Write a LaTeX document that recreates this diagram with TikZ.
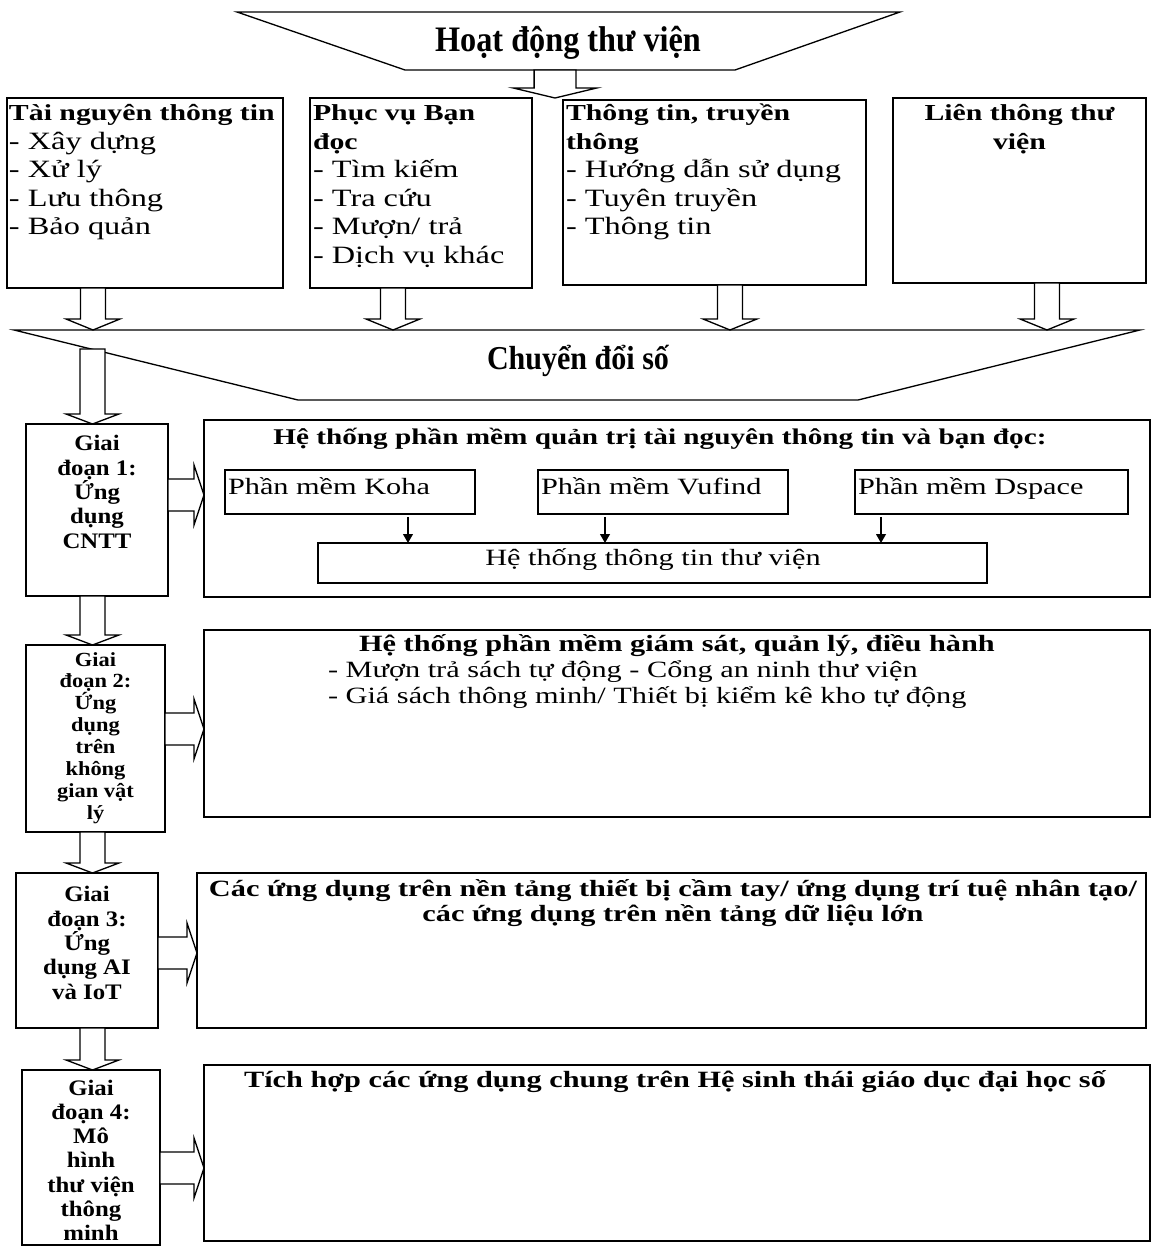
\documentclass[tikz,border=0pt]{standalone}
\usepackage{fontspec}
\setmainfont{Liberation Serif}[FakeStretch=1.3]
\newfontfamily\ttlfont{Liberation Serif}[FakeStretch=0.9]
\newfontfamily\stgfont{Liberation Serif}[FakeStretch=1.12]
\usetikzlibrary{calc,arrows.meta}
\newcommand\fs[2]{\fontsize{#1}{#2}\selectfont}
\newcommand\tstrut{\rule{0pt}{1em}}
\newcommand\hb[1]{{\fs{13.04pt}{16.21pt}\bfseries #1}}
\newcommand\rbox[5]{\node[boxnode, minimum width={(#4-#2)*0.02cm}, minimum height={(#5-#3)*0.02cm}] (#1) at ({(#2+#4)/2},{(#3+#5)/2}) {};}
\begin{document}
\begin{tikzpicture}[x=0.02cm,y=-0.02cm,line width=0.75pt,
  boxnode/.style={draw,rectangle,inner sep=0pt,outer sep=0pt},
  txt/.style={inner sep=0pt,outer sep=0pt},
  blk/.style={draw,fill=white,line width=0.75pt},
  dblk/.style n args={3}{blk,to path={let \p1=(\tikztostart),\p2=(\tikztotarget) in
     (\x1-#1,\y1) -- (\x1+#1,\y1) -- (\x1+#1,\y2+#3) -- (\x1+#2,\y2+#3) -- (\x1,\y2)
     -- (\x1-#2,\y2+#3) -- (\x1-#1,\y2+#3) -- cycle}},
  rblk/.style n args={3}{blk,to path={let \p1=(\tikztostart),\p2=(\tikztotarget) in
     (\x1,\y1-#1) -- (\x2-#3,\y1-#1) -- (\x2-#3,\y1-#2) -- (\x2,\y1) -- (\x2-#3,\y1+#2)
     -- (\x2-#3,\y1+#1) -- (\x1,\y1+#1) -- cycle}},
  sarr/.style={-{Triangle[length=5pt,width=5.5pt]},line width=0.75pt,shorten <=1.7pt},
  reg/.style={txt,font=\fs{14.17pt}{16.21pt}},
  stg/.style={txt,anchor=north,align=center,font=\stgfont\bfseries\fs{12.6pt}{13.89pt}},
  ctitle/.style={txt,anchor=base,font=\bfseries\fs{13.27pt}{15pt}},
  creg/.style={txt,font=\fs{13.27pt}{14.74pt}}
]
\useasboundingbox (0,0) rectangle (1151,1247);

% ---------- top funnel ----------
\draw (237,12) coordinate (f1a) -- (900,12) coordinate (f1b) -- (735,70) coordinate (f1c) -- (405,70) coordinate (f1d) -- cycle;
\node[txt,font=\ttlfont\bfseries\fs{20.4pt}{24pt}] (hd) at (568,42.5) {Hoạt động thư viện};
\coordinate (a0s) at (555,70);
\coordinate (a0e) at (555,98);
\draw[dblk={11.9pt}{23.8pt}{5.7pt}] (a0s) to (a0e);

% ---------- row of activity boxes ----------
\rbox{b1}{7}{98}{283}{288}
\rbox{b2}{310}{98}{532}{288}
\rbox{b3}{563}{100}{866}{285}
\rbox{b4}{893}{98}{1146}{283}

\node[reg,anchor=north west,align=left] (t1) at (9,98)
  {\hb{\tstrut Tài nguyên thông tin}\\- Xây dựng\\- Xử lý\\- Lưu thông\\- Bảo quản};
\node[reg,anchor=north west,align=left] (t2) at (313,98)
  {\hb{\tstrut Phục vụ Bạn}\\\hb{đọc}\\- Tìm kiếm\\- Tra cứu\\- Mượn/ trả\\- Dịch vụ khác};
\node[reg,anchor=north west,align=left] (t3) at (566,98)
  {\hb{\tstrut Thông tin, truyền}\\\hb{thông}\\- Hướng dẫn sử dụng\\- Tuyên truyền\\- Thông tin};
\node[reg,anchor=north,align=center] (t4) at (1019.5,98)
  {\hb{\tstrut Liên thông thư}\\\hb{viện}};

% ---------- second funnel ----------
\draw (14,330) coordinate (f2a) -- (1140,330) coordinate (f2b) -- (858,400) coordinate (f2c) -- (298,400) coordinate (f2d) -- cycle;
\coordinate (f2top) at (577,330);
\node[txt,font=\ttlfont\bfseries\fs{19pt}{22pt}] (cds) at (578,361) {Chuyển đổi số};

\coordinate (cx1) at (93,0);
\coordinate (cx2) at (393,0);
\coordinate (cx3) at (730,0);
\coordinate (cx4) at (1047,0);
\draw[dblk={7.09pt}{15.3pt}{6.24pt}] (b1.south -| cx1) to (f2top -| cx1);
\draw[dblk={7.09pt}{15.3pt}{6.24pt}] (b2.south -| cx2) to (f2top -| cx2);
\draw[dblk={7.09pt}{15.3pt}{6.24pt}] (b3.south -| cx3) to (f2top -| cx3);
\draw[dblk={7.09pt}{15.3pt}{6.24pt}] (b4.south -| cx4) to (f2top -| cx4);

% ---------- stage boxes ----------
\rbox{s1}{26}{424}{168}{596}
\rbox{s2}{26}{645}{165}{832}
\rbox{s3}{16}{873}{158}{1028}
\rbox{s4}{22}{1070}{160}{1245}

\node[stg] (st1) at (97,428.5) {\tstrut Giai\\đoạn 1:\\Ứng\\dụng\\CNTT};
\node[stg,font=\stgfont\bfseries\fs{11.4pt}{12.47pt}] (st2) at (95.5,646) {\tstrut Giai\\đoạn 2:\\Ứng\\dụng\\trên\\không\\gian vật\\lý};
\node[stg] (st3) at (87,879.5) {\tstrut Giai\\đoạn 3:\\Ứng\\dụng AI\\và IoT};
\node[stg,font=\stgfont\bfseries\fs{12.6pt}{13.72pt}] (st4) at (91,1073.5) {\tstrut Giai\\đoạn 4:\\Mô\\hình\\thư viện\\thông\\minh};

\coordinate (colx) at (92.5,0);
\coordinate (fe) at (92.5,349);
\draw[dblk={7.09pt}{15pt}{5.67pt}] (fe) to (s1.north -| colx);
\draw[dblk={7.09pt}{15pt}{5.67pt}] (s1.south -| colx) to (s2.north -| colx);
\draw[dblk={7.09pt}{15pt}{5.67pt}] (s2.south -| colx) to (s3.north -| colx);
\draw[dblk={7.09pt}{15pt}{5.67pt}] (s3.south -| colx) to (s4.north -| colx);

% ---------- content boxes ----------
\rbox{c1}{204}{420}{1150}{597}
\rbox{c2}{204}{630}{1150}{817}
\rbox{c3}{197}{873}{1146}{1028}
\rbox{c4}{204}{1065}{1150}{1241}

\coordinate (ry1) at (0,495);
\coordinate (ry2) at (0,729);
\coordinate (ry3) at (0,953);
\coordinate (ry4) at (0,1168);
\draw[rblk={9.07pt}{17pt}{5.67pt}] (s1.east |- ry1) to (c1.west |- ry1);
\draw[rblk={9.07pt}{17pt}{5.67pt}] (s2.east |- ry2) to (c2.west |- ry2);
\draw[rblk={9.07pt}{17pt}{5.67pt}] (s3.east |- ry3) to (c3.west |- ry3);
\draw[rblk={9.07pt}{17pt}{5.67pt}] (s4.east |- ry4) to (c4.west |- ry4);

% content 1
\node[ctitle,font=\bfseries\fs{12.8pt}{15pt}] (c1t) at (660,444) {Hệ thống phần mềm quản trị tài nguyên thông tin và bạn đọc:};
\rbox{k1}{225}{470}{475}{514}
\rbox{k2}{538}{470}{788}{514}
\rbox{k3}{855}{470}{1128}{514}
\node[creg,anchor=base west] (k1t) at (228,494) {Phần mềm Koha};
\node[creg,anchor=base west] (k2t) at (541,494) {Phần mềm Vufind};
\node[creg,anchor=base west] (k3t) at (858,494) {Phần mềm Dspace};
\rbox{ht}{318}{543}{987}{583}
\node[creg,anchor=base] (htt) at (653,565) {Hệ thống thông tin thư viện};
\coordinate (kx1) at (408,0);
\coordinate (kx2) at (605,0);
\coordinate (kx3) at (881,0);
\draw[sarr] (k1.south -| kx1) -- (ht.north -| kx1);
\draw[sarr] (k2.south -| kx2) -- (ht.north -| kx2);
\draw[sarr] (k3.south -| kx3) -- (ht.north -| kx3);

% content 2
\node[ctitle] (c2t) at (677,651) {Hệ thống phần mềm giám sát, quản lý, điều hành};
\node[creg,anchor=base west] (c2a) at (328,677) {- Mượn trả sách tự động - Cổng an ninh thư viện};
\node[creg,anchor=base west] (c2b) at (328,703) {- Giá sách thông minh/ Thiết bị kiểm kê kho tự động};

% content 3
\node[ctitle] (c3a) at (673,896) {Các ứng dụng trên nền tảng thiết bị cầm tay/ ứng dụng trí tuệ nhân tạo/};
\node[ctitle] (c3b) at (673,921) {các ứng dụng trên nền tảng dữ liệu lớn};

% content 4
\node[ctitle] (c4t) at (675,1087) {Tích hợp các ứng dụng chung trên Hệ sinh thái giáo dục đại học số};
\end{tikzpicture}
\end{document}
